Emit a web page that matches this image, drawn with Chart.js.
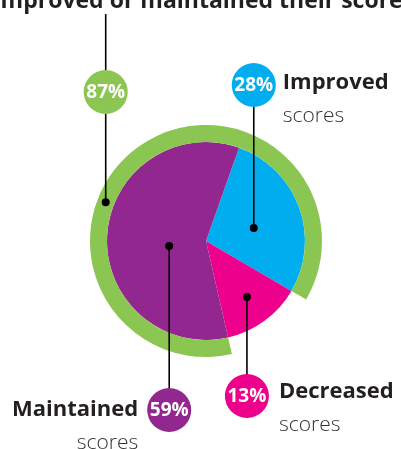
<!DOCTYPE html>
<html>
<head>
<meta charset="utf-8">
<script src="https://cdn.jsdelivr.net/npm/chart.js@4.4.1/dist/chart.umd.min.js"></script>
<style>
  html, body { margin: 0; padding: 0; background: #fff; }
  #chartScores { display: block; }
</style>
</head>
<body>
<canvas id="chartScores" width="401" height="449"></canvas>
<script>
// Define the data
var categories = ['Improved', 'Decreased', 'Maintained'];
var values = [28, 13, 59]; // percent of students
var ringLabel = 'Improved or maintained their scores';
var ringValue = values[0] + values[2]; // 87
// End Defining data

var colors = ['#00aeef', '#ec008c', '#92278f'];
var green = '#8cc652';
var dark = '#231f20';
var startAngle = 19.5; // where "Improved" begins, degrees from top

// where the dots, bubbles and texts go (angle from top, fraction of radius, bubble y)
var callouts = [
  { i: 0, angle: 74.8, r: 0.5, by: 85, text: 'Improved', tx: 29, ty: 4, align: 'left' },
  { i: 1, angle: 143.8, r: 0.7, by: 396, text: 'Decreased', tx: 32, ty: 2, align: 'left' },
  { i: 2, angle: 262.3, r: 0.375, by: 410, text: 'Maintained', tx: -31, ty: 6, align: 'right' },
];

var calloutPlugin = {
  id: 'callouts',
  afterDraw: function (chart) {
    var c = chart.ctx;
    var arc = chart.getDatasetMeta(1).data[0];
    var ring = chart.getDatasetMeta(0).data[0];
    var cx = arc.x, cy = arc.y, R = arc.outerRadius;

    function polar(deg, rad) {
      var a = deg * Math.PI / 180;
      return { x: cx + rad * Math.sin(a), y: cy - rad * Math.cos(a) };
    }
    function bubble(x, y, color, txt) {
      c.beginPath();
      c.arc(x, y, 22, 0, Math.PI * 2);
      c.fillStyle = color;
      c.fill();
      c.fillStyle = '#fff';
      c.font = 'bold 19px "Open Sans"';
      c.textAlign = 'center';
      c.textBaseline = 'middle';
      c.fillText(txt, x, y + 1);
    }
    function dot(p) {
      c.beginPath();
      c.arc(p.x, p.y, 4, 0, Math.PI * 2);
      c.fillStyle = '#000';
      c.fill();
    }
    function line(x, y1, y2) {
      c.beginPath();
      c.moveTo(x, y1);
      c.lineTo(x, y2);
      c.lineWidth = 1.6;
      c.strokeStyle = '#000';
      c.stroke();
    }

    c.save();
    // title (cut off at top like the original)
    c.fillStyle = dark;
    c.font = 'bold 23px "Open Sans"';
    c.textAlign = 'left';
    c.textBaseline = 'alphabetic';
    c.fillText(ringLabel, -7, 8);

    // ring callout
    var rp = polar(291.1, (ring.innerRadius + ring.outerRadius) / 2);
    line(rp.x, 14, rp.y);
    dot(rp);
    bubble(rp.x, 92, green, ringValue + '%');

    callouts.forEach(function (o) {
      var p = polar(o.angle, R * o.r);
      line(p.x, p.y, o.by);
      dot(p);
      bubble(p.x, o.by, colors[o.i], values[o.i] + '%');
      c.textAlign = o.align;
      c.textBaseline = 'alphabetic';
      c.fillStyle = dark;
      c.font = 'bold 22px "Open Sans"';
      c.fillText(o.text, p.x + o.tx, o.by + o.ty);
      c.fillStyle = '#333';
      c.font = '300 21px "Open Sans"';
      c.fillText('scores', p.x + o.tx, o.by + o.ty + 33);
    });
    c.restore();
  },
};

var ctx = document.getElementById('chartScores').getContext('2d');
var myChart = new Chart(ctx, {
  type: 'pie',
  data: {
    labels: categories,
    datasets: [
      {
        label: ringLabel, // outer ring: maintained + improved, starts after "Decreased"
        data: [ringValue, values[1]],
        backgroundColor: [green, 'rgba(0,0,0,0)'],
        borderWidth: 0,
        weight: 17,
        rotation: startAngle + (values[0] + values[1]) * 3.6,
      },
      {
        label: 'Scores',
        data: values,
        backgroundColor: colors,
        borderWidth: 0,
        weight: 99,
        rotation: startAngle,
      },
    ],
  },
  options: {
    responsive: false,
    animation: false,
    hoverOffset: 0,
    layout: { padding: { left: 90, right: 79, top: 125, bottom: 92 } },
    plugins: {
      legend: { display: false },
      tooltip: { enabled: false },
    },
  },
  plugins: [calloutPlugin],
});
</script>
</body>
</html>
